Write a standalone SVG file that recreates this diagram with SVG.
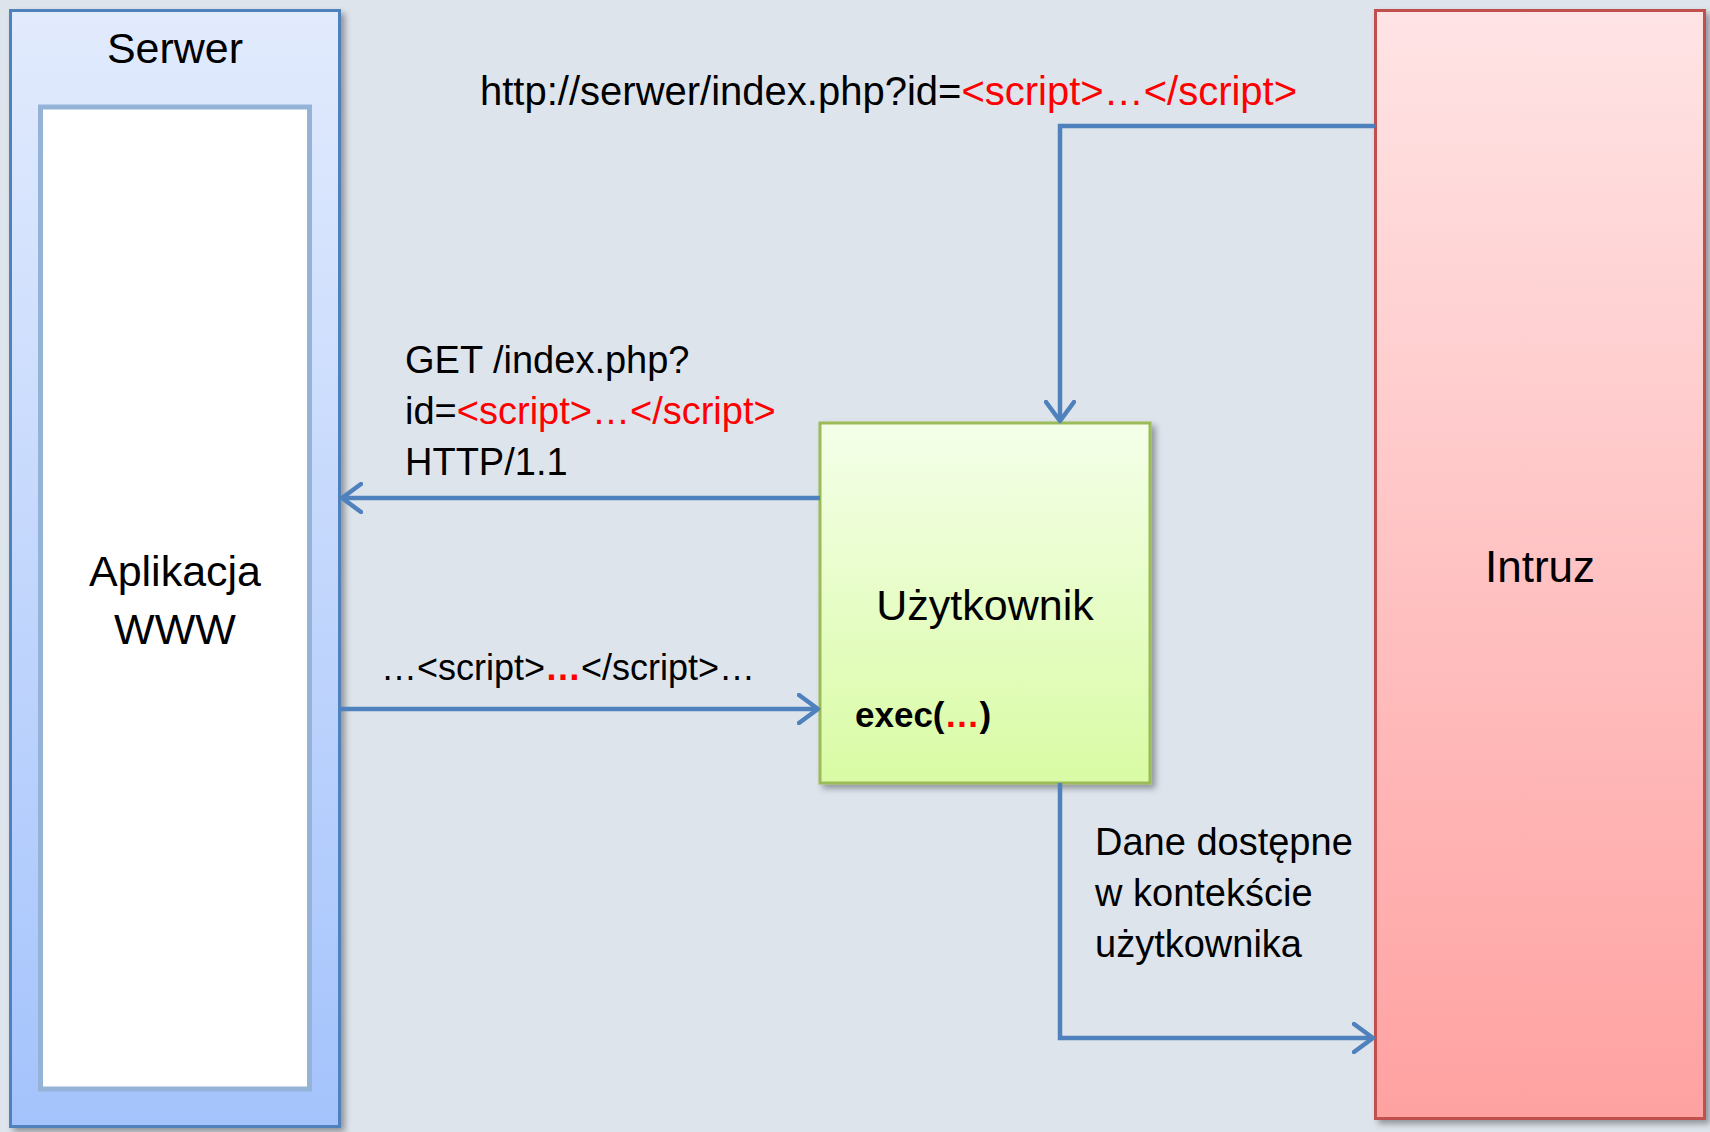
<svg xmlns="http://www.w3.org/2000/svg" width="1710" height="1132" viewBox="0 0 1710 1132">
<style>
.t{font-family:"Liberation Sans",Arial,sans-serif;fill:#000}
.r{fill:#ff0000}
.c{fill:none;stroke:#4F81BD;stroke-width:4.5}
</style>
<defs>
<linearGradient id="gS" x1="0" y1="0" x2="0" y2="1"><stop offset="0" stop-color="#E2EBFD"/><stop offset="1" stop-color="#A4C3FC"/></linearGradient>
<linearGradient id="gU" x1="0" y1="0" x2="0" y2="1"><stop offset="0" stop-color="#F4FFE9"/><stop offset="1" stop-color="#D9FBA4"/></linearGradient>
<linearGradient id="gI" x1="0" y1="0" x2="0" y2="1"><stop offset="0" stop-color="#FFE4E5"/><stop offset="1" stop-color="#FFA1A1"/></linearGradient>
<filter id="sh" x="-10%" y="-10%" width="130%" height="130%"><feDropShadow dx="4" dy="4" stdDeviation="3" flood-color="#000" flood-opacity="0.35"/></filter>
<marker id="ah" viewBox="0 0 30 32" markerUnits="userSpaceOnUse" markerWidth="30" markerHeight="32" refX="21" refY="16" orient="auto">
<path d="M2,2 L21,16 L2,30" fill="none" stroke="#4F81BD" stroke-width="4.5" stroke-linecap="round" stroke-linejoin="round"/>
</marker>
</defs>
<rect x="0" y="0" width="1710" height="1132" fill="#DEE4EC"/>
<g id="serwer">
<rect x="10.5" y="10.5" width="329" height="1116" fill="url(#gS)" stroke="#4F81BD" stroke-width="3" filter="url(#sh)"/>
<text class="t" x="175" y="63" font-size="43" text-anchor="middle">Serwer</text>
</g>
<g id="aplikacja">
<rect x="40.5" y="107" width="269" height="982" fill="#FFFFFF" stroke="#95B3D7" stroke-width="5"/>
<text class="t" x="175" y="586" font-size="43" text-anchor="middle">Aplikacja</text>
<text class="t" x="175" y="644" font-size="43" text-anchor="middle">WWW</text>
</g>
<g id="intruz">
<rect x="1375.5" y="10.5" width="329" height="1108" fill="url(#gI)" stroke="#C0504D" stroke-width="3" filter="url(#sh)"/>
<text class="t" x="1540" y="582" font-size="44" text-anchor="middle">Intruz</text>
</g>
<g id="uzytkownik">
<rect x="820" y="423" width="330" height="360" fill="url(#gU)" stroke="#9BBB59" stroke-width="3" filter="url(#sh)"/>
<text class="t" x="985" y="620" font-size="43" text-anchor="middle">Użytkownik</text>
<text class="t" x="855" y="727" font-size="35" font-weight="bold">exec(<tspan class="r">…</tspan>)</text>
</g>
<g id="connectors">
<path class="c" d="M1375,126 H1060 V421" marker-end="url(#ah)"/>
<path class="c" d="M820,498 H342" marker-end="url(#ah)"/>
<path class="c" d="M340,709 H818" marker-end="url(#ah)"/>
<path class="c" d="M1060,783 V1038 H1373" marker-end="url(#ah)"/>
</g>
<g id="labels">
<text class="t" x="480" y="105" font-size="40">http://serwer/index.php?id=<tspan class="r">&lt;script&gt;…&lt;/script&gt;</tspan></text>
<text class="t" x="405" y="373" font-size="38">GET /index.php?</text>
<text class="t" x="405" y="424" font-size="38">id=<tspan class="r">&lt;script&gt;…&lt;/script&gt;</tspan></text>
<text class="t" x="405" y="475" font-size="38">HTTP/1.1</text>
<text class="t" x="381" y="680" font-size="36">…&lt;script&gt;<tspan class="r" font-weight="bold">…</tspan>&lt;/script&gt;…</text>
<text class="t" x="1095" y="855" font-size="38">Dane dostępne</text>
<text class="t" x="1095" y="906" font-size="38">w kontekście</text>
<text class="t" x="1095" y="957" font-size="38">użytkownika</text>
</g>
</svg>
